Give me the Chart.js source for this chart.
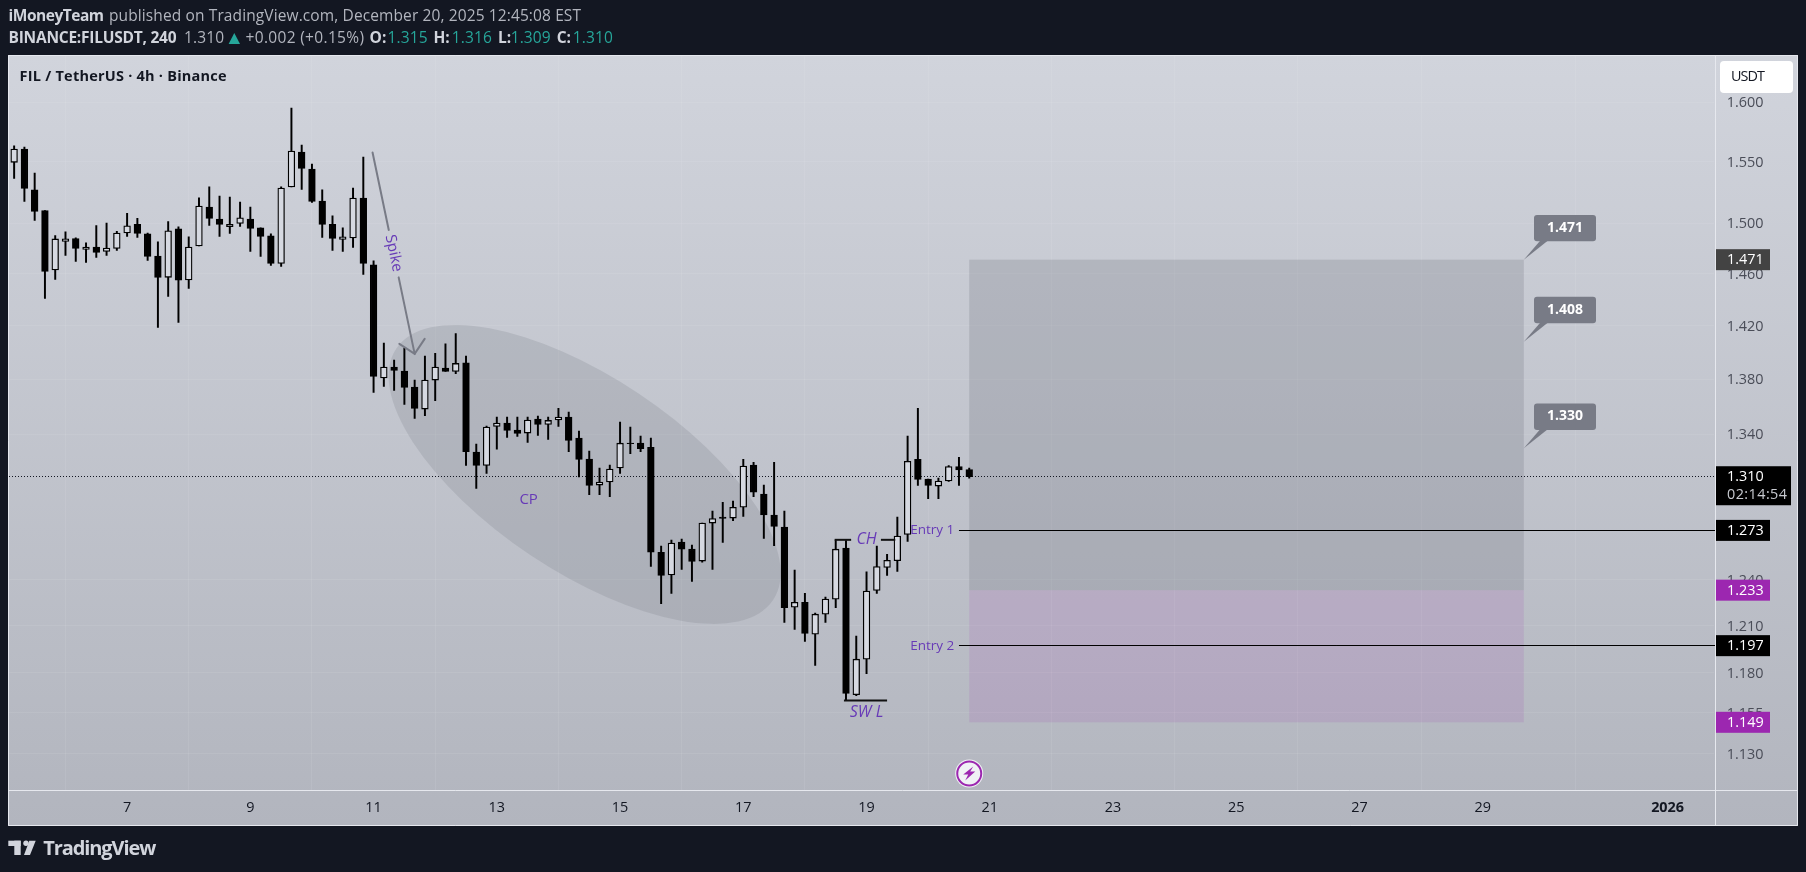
<!DOCTYPE html>
<html><head><meta charset="utf-8">
<style>html,body{margin:0;padding:0;background:#131722;overflow:hidden}canvas{display:block}</style>
<script src="https://cdn.jsdelivr.net/npm/chart.js@4/dist/chart.umd.js"></script>
</head><body><canvas id="c" width="1806" height="872"></canvas>
<script>
const opens=[1.5495,1.5605,1.5270,1.5100,1.4630,1.4854,1.4876,1.4790,1.4810,1.4775,1.4798,1.4921,1.4990,1.4914,1.4739,1.4572,1.4954,1.4552,1.4818,1.5130,1.5032,1.4972,1.4998,1.5032,1.4962,1.4898,1.4681,1.5293,1.5580,1.5440,1.5178,1.4990,1.4870,1.4882,1.5202,1.4669,1.3809,1.3890,1.3860,1.3743,1.3582,1.3794,1.3882,1.3857,1.3922,1.3273,1.3179,1.3457,1.3481,1.3431,1.3409,1.3510,1.3471,1.3503,1.3524,1.3373,1.3224,1.3042,1.3063,1.3161,1.3337,1.3337,1.3308,1.2582,1.2431,1.2650,1.2603,1.2523,1.2780,1.2821,1.2814,1.2888,1.3182,1.2979,1.2835,1.2753,1.2218,1.2251,1.2044,1.2173,1.2271,1.2610,1.1661,1.1884,1.2328,1.2480,1.2525,1.2702,1.3222,1.3084,1.3035,1.3070,1.3172,1.315];
const highs=[1.5633,1.5622,1.5407,1.5100,1.4900,1.4930,1.4882,1.4842,1.4980,1.5000,1.4934,1.5079,1.5038,1.4921,1.4850,1.5013,1.4970,1.4890,1.5204,1.5293,1.5218,1.5210,1.5170,1.5130,1.4962,1.4914,1.5293,1.5951,1.5639,1.5481,1.5269,1.5058,1.4962,1.5284,1.5539,1.4700,1.4069,1.3942,1.4031,1.3794,1.3971,1.3993,1.4063,1.4140,1.3971,1.3330,1.3459,1.3524,1.3524,1.3524,1.3524,1.3531,1.3524,1.3588,1.3560,1.3424,1.3280,1.3161,1.3182,1.3488,1.3452,1.3388,1.3373,1.2623,1.2664,1.2671,1.2630,1.2780,1.2862,1.2923,1.2930,1.3222,1.3201,1.3042,1.3201,1.2862,1.2463,1.2310,1.2180,1.2284,1.2666,1.2661,1.2032,1.2452,1.2623,1.2569,1.2821,1.3388,1.3588,1.3084,1.3091,1.3179,1.3236,1.316];
const lows=[1.5363,1.5174,1.5022,1.4408,1.4556,1.4744,1.4697,1.4689,1.4728,1.4744,1.4783,1.4894,1.4886,1.4705,1.4187,1.4424,1.4225,1.4486,1.4818,1.4982,1.4894,1.4918,1.4974,1.4775,1.4736,1.4665,1.4658,1.5293,1.5272,1.5166,1.4886,1.4783,1.4775,1.4806,1.4595,1.3703,1.3747,1.3718,1.3615,1.3514,1.3535,1.3644,1.3857,1.3842,1.3179,1.3018,1.3123,1.3294,1.3378,1.3385,1.3342,1.3392,1.3363,1.3457,1.3277,1.3098,1.2976,1.2976,1.2962,1.3123,1.3263,1.3277,1.2487,1.2241,1.2308,1.2468,1.2388,1.2516,1.2468,1.2648,1.2797,1.2825,1.2962,1.2675,1.2627,1.2119,1.2074,1.1997,1.1844,1.2119,1.2216,1.1624,1.1655,1.1793,1.2308,1.2428,1.2454,1.2655,1.3039,1.2948,1.2948,1.3067,1.3039,1.309];
const closes=[1.5605,1.5281,1.5094,1.4619,1.4874,1.4874,1.4798,1.4810,1.4767,1.4802,1.4921,1.4978,1.4918,1.4736,1.4572,1.4938,1.4549,1.4810,1.5138,1.5038,1.4990,1.4990,1.5042,1.4958,1.4894,1.4681,1.5284,1.5588,1.5445,1.5174,1.4990,1.4878,1.4890,1.5202,1.4681,1.3821,1.3890,1.3865,1.3740,1.3586,1.3794,1.3890,1.3857,1.3917,1.3277,1.3179,1.3452,1.3481,1.3428,1.3406,1.3503,1.3471,1.3500,1.3524,1.3356,1.3221,1.3039,1.3063,1.3154,1.3337,1.3333,1.3298,1.2582,1.2428,1.2644,1.2603,1.2520,1.2780,1.2811,1.2811,1.2888,1.3175,1.2993,1.2835,1.2757,1.2216,1.2251,1.2048,1.2173,1.2271,1.2603,1.1668,1.1884,1.2324,1.2487,1.2528,1.2691,1.3208,1.3081,1.3039,1.3070,1.3172,1.3147,1.310];
const priceTicks=[1.600,1.550,1.500,1.460,1.420,1.380,1.340,1.240,1.210,1.180,1.155,1.130];
const dayTickIndex=[11,23,35,47,59,71,83,95,107,119,131,143,161];
const dayTickText=['7','9','11','13','15','17','19','21','23','25','27','29','2026'];
const slotCount=166;
const slots=[];for(let i=0;i<slotCount;i++)slots.push(new Date(Date.UTC(2025,11,5,4)+i*14400000).toISOString().slice(0,16));
const targetLevels=[1.471,1.408,1.330];
const riskTop=1.471,entryTop=1.233,stopLevel=1.149,entry1=1.273,entry2=1.197,lastPrice=1.310;
const INK='#673ab7';
const bodies=opens.map((o,i)=>[Math.min(o,closes[i]),Math.max(o,closes[i])]);
const wicks=lows.map((l,i)=>[l,highs[i]]);
const bodyFill=opens.map((o,i)=>closes[i]>o?'#d6d9e1':'#000000');
const PANE_R=1715;

function txt(c,s,x,y,font,col,align,w){c.font=font;c.fillStyle=col;c.textAlign=align||'left';c.textBaseline='middle';
 if(w){c.letterSpacing='0px';const m=c.measureText(s).width;c.letterSpacing=((w-m)/(s.length-1)).toFixed(3)+'px';}
 c.fillText(s,x,y);c.letterSpacing='0px';}
const SANS='"Open Sans"';
const deco={id:'deco',
 beforeDraw(ch){const c=ch.ctx;c.save();
  c.fillStyle='#131722';c.fillRect(0,0,1806,872);
  const g=c.createLinearGradient(0,55,0,825);g.addColorStop(0,'#d1d4dc');g.addColorStop(1,'#b2b5be');
  c.fillStyle=g;c.fillRect(8,55,1790,771);c.restore();},
 beforeDatasetsDraw(ch){const c=ch.ctx,X=ch.scales.x,Y=ch.scales.y,A=ch.chartArea;c.save();
  const p1=[X.getPixelForValue(37.2),Y.getPixelForValue(1.4027)],p2=[X.getPixelForValue(73.9),Y.getPixelForValue(1.2265)];
  c.beginPath();c.ellipse((p1[0]+p2[0])/2,(p1[1]+p2[1])/2,Math.hypot(p2[0]-p1[0],p2[1]-p1[1])/2,97.3,Math.atan2(p2[1]-p1[1],p2[0]-p1[0]),0,Math.PI*2);
  c.fillStyle='rgba(120,123,134,0.22)';c.fill();
  const xa=X.getPixelForValue(93),xb=X.getPixelForValue(147);
  c.fillStyle='rgba(120,123,134,0.27)';c.fillRect(xa,Y.getPixelForValue(riskTop),xb-xa,Y.getPixelForValue(entryTop)-Y.getPixelForValue(riskTop));
  c.fillStyle='rgba(156,39,176,0.12)';c.fillRect(xa,Y.getPixelForValue(entryTop),xb-xa,Y.getPixelForValue(stopLevel)-Y.getPixelForValue(entryTop));
  c.strokeStyle='#131722';c.lineWidth=1;c.setLineDash([1,2]);c.beginPath();const ly=Math.floor(Y.getPixelForValue(lastPrice))+.5;c.moveTo(A.left,ly);c.lineTo(PANE_R,ly);c.stroke();c.setLineDash([]);
  c.strokeStyle='#000';c.lineWidth=1;const lx=X.getPixelForValue(92);
  [entry1,entry2].forEach(v=>{const y=Math.floor(Y.getPixelForValue(v))+.5;c.beginPath();c.moveTo(lx,y);c.lineTo(PANE_R,y);c.stroke();});
  c.restore();},
 afterDatasetsDraw(ch){const c=ch.ctx,X=ch.scales.x,Y=ch.scales.y,A=ch.chartArea;c.save();
  const s=[X.getPixelForValue(34.9),Y.getPixelForValue(1.5577)],t=[X.getPixelForValue(39),Y.getPixelForValue(1.3988)];
  const at=f=>[s[0]+(t[0]-s[0])*f,s[1]+(t[1]-s[1])*f];
  c.strokeStyle='#787b86';c.lineWidth=2;c.lineCap='round';
  const g1=at(.385),g2=at(.62);
  c.beginPath();c.moveTo(s[0],s[1]);c.lineTo(g1[0],g1[1]);c.moveTo(g2[0],g2[1]);c.lineTo(t[0],t[1]);c.stroke();
  c.beginPath();c.moveTo(t[0]-15.3,t[1]-10);c.lineTo(t[0],t[1]);c.lineTo(t[0]+10,t[1]-15);c.stroke();
  const m=at(.5);c.save();c.translate(m[0],m[1]);c.rotate(Math.atan2(t[1]-s[1],t[0]-s[0]));txt(c,'Spike',0,0,'500 15px '+SANS,INK,'center');c.restore();
  c.strokeStyle='#111';c.lineWidth=2;c.lineCap='butt';
  let y=Y.getPixelForValue(1.2666);
  [[79.9,81.5],[84.4,85.8]].forEach(r=>{c.beginPath();c.moveTo(X.getPixelForValue(r[0]),y);c.lineTo(X.getPixelForValue(r[1]),y);c.stroke();});
  y=Y.getPixelForValue(1.1624);c.beginPath();c.moveTo(X.getPixelForValue(80.8),y);c.lineTo(X.getPixelForValue(85),y);c.stroke();
  txt(c,'CP',X.getPixelForValue(50.1),Y.getPixelForValue(1.2939),'500 15px '+SANS,INK,'center');
  txt(c,'CH',X.getPixelForValue(83),Y.getPixelForValue(1.2668),'italic 500 16px '+SANS,INK,'center');
  txt(c,'SW L',X.getPixelForValue(83),Y.getPixelForValue(1.1548),'italic 500 16px '+SANS,INK,'center');
  txt(c,'Entry 1',X.getPixelForValue(89.4),Y.getPixelForValue(entry1),'500 13.5px '+SANS,INK,'center');
  txt(c,'Entry 2',X.getPixelForValue(89.4),Y.getPixelForValue(entry2),'500 13.5px '+SANS,INK,'center');
  const xb=X.getPixelForValue(147);
  targetLevels.forEach(v=>{const ty=Y.getPixelForValue(v);
   c.fillStyle='#787b86';c.beginPath();c.moveTo(xb,ty);c.lineTo(1541,ty-20);c.lineTo(1549,ty-20);c.closePath();c.fill();
   c.beginPath();c.roundRect(1534,ty-44.8,62,26.4,3);c.fill();
   txt(c,v.toFixed(3),1565,ty-32,'bold 14px '+SANS,'#ffffff','center');});
  const fx=X.getPixelForValue(93),fy=773.5;
  c.beginPath();c.arc(fx,fy,14,0,Math.PI*2);c.fillStyle='#f0f1f5';c.fill();
  c.beginPath();c.arc(fx,fy,12,0,Math.PI*2);c.strokeStyle='#9c27b0';c.lineWidth=2;c.stroke();
  c.fillStyle='#9c27b0';c.beginPath();c.moveTo(fx+4,fy-7);c.lineTo(fx-6,fy+1);c.lineTo(fx-1,fy+1);c.lineTo(fx-4,fy+7);c.lineTo(fx+6,fy-2);c.lineTo(fx+1,fy-2);c.closePath();c.fill();
  c.strokeStyle='#e6e8ee';c.lineWidth=1;c.beginPath();
  c.rect(8.5,55.5,1789,770);c.moveTo(PANE_R+.5,55);c.lineTo(PANE_R+.5,825);c.moveTo(8,790.5);c.lineTo(1797,790.5);c.stroke();
  const tag=(v,col,sub)=>{const yy=Y.getPixelForValue(v);const w=sub?75:54;
    c.fillStyle=col;c.fillRect(1716,yy-10.5,w,sub?39:21);
    txt(c,v.toFixed(3),1727,yy+.5,'14.4px '+SANS,'#ffffff','left');
    if(sub)txt(c,sub,1727,yy+18.5,'14.4px '+SANS,'#c8cad0','left',60);};
  tag(riskTop,'#434343');tag(lastPrice,'#000000','02:14:54');tag(entry1,'#000000');tag(entryTop,'#9c27b0');tag(entry2,'#000000');tag(stopLevel,'#9c27b0');
  c.fillStyle='#ffffff';c.beginPath();c.roundRect(1720,61,73,32,4);c.fill();
  txt(c,'USDT',1731,77,'14.4px '+SANS,'#131722','left',34);
  txt(c,'FIL / TetherUS · 4h · Binance',19.6,77,'bold 14.5px '+SANS,'#131722','left',207);
  const mut='#b2b5be',hi='#d1d4dc',te='#26a69a',f='15.5px '+SANS,b='bold 15.5px '+SANS;
  txt(c,'iMoneyTeam',8.5,17,b,hi,'left',95.5);
  txt(c,'published on TradingView.com, December 20, 2025 12:45:08 EST',109,17,f,mut,'left',472);
  txt(c,'BINANCE:FILUSDT, 240',8.5,39,b,hi,'left',168);
  txt(c,'1.310',184,39,f,mut,'left',40);
  c.fillStyle=te;c.beginPath();c.moveTo(234.3,33);c.lineTo(240,44);c.lineTo(228.6,44);c.closePath();c.fill();
  txt(c,'+0.002 (+0.15%)',245.5,39,f,mut,'left',118.5);
  [['O:',369.6,'1.315',387.5],['H:',433.5,'1.316',451.8],['L:',498,'1.309',510.7],['C:',556.7,'1.310',572.8]].forEach(r=>{txt(c,r[0],r[1],39,b,hi);txt(c,r[2],r[3],39,f,te,'left',40);});
  c.fillStyle='#d1d4dc';c.fillRect(8.3,840.7,12.4,5.3);c.fillRect(14.3,840.7,6.4,14.3);c.beginPath();c.arc(26,843.3,2.7,0,7);c.fill();
  c.beginPath();c.moveTo(29.3,840.7);c.lineTo(35.7,840.7);c.lineTo(30,855);c.lineTo(24,855);c.closePath();c.fill();
  txt(c,'TradingView',43.3,849,'bold 20px '+SANS,'#d1d4dc','left',113);
  c.restore();}
};
Chart.defaults.font.family=SANS;
new Chart(document.getElementById('c'),{
 type:'bar',
 data:{labels:slots,datasets:[
  {label:'bodies',data:bodies,backgroundColor:bodyFill,borderColor:'#000',borderWidth:1.3,borderSkipped:false,barThickness:6.7,grouped:false,order:1},
  {label:'wicks',data:wicks,backgroundColor:'#000',borderWidth:0,barThickness:1.3,grouped:false,order:2}
 ]},
 options:{responsive:false,animation:false,devicePixelRatio:1,
  layout:{padding:{left:9,top:55,right:9,bottom:47}},
  plugins:{legend:{display:false},tooltip:{enabled:false}},
  scales:{
   x:{type:'category',offset:true,afterFit(s){s.height=35;},
    afterBuildTicks(s){s.ticks=dayTickIndex.map(v=>({value:v}));},
    grid:{color:'rgba(255,255,255,0.08)',drawTicks:false},border:{display:false},
    ticks:{autoSkip:false,maxRotation:0,padding:9,color:'#131722',
     font:ctx=>({size:14.4,family:SANS,weight:ctx.tick&&ctx.tick.value===161?'bold':'normal'}),
     callback(v){const i=dayTickIndex.indexOf(v);return i<0?'':dayTickText[i];}}},
   y:{type:'logarithmic',position:'right',min:1.1082,max:1.6409,afterFit(s){s.width=83.2;},
    afterBuildTicks(s){s.ticks=priceTicks.map(v=>({value:v}));},
    grid:{color:'rgba(255,255,255,0.08)',drawTicks:false},border:{display:false},
    ticks:{autoSkip:false,padding:13,labelOffset:1,color:'#4a4d58',font:{size:14.4,family:SANS},callback:v=>Number(v).toFixed(3)}}
  }},
 plugins:[deco]});
</script></body></html>
